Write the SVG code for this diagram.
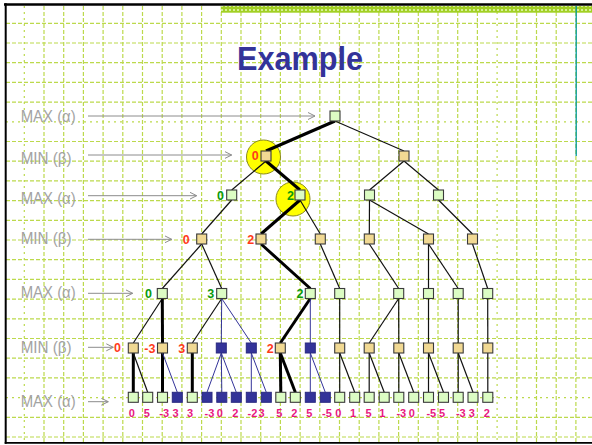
<svg xmlns="http://www.w3.org/2000/svg" width="592" height="445" viewBox="0 0 592 445">
<defs>
<pattern id="hatch" width="4" height="4" patternUnits="userSpaceOnUse"><rect width="4" height="4" fill="#a2d024"/><rect x="1" y="1" width="2" height="2" fill="#d6ee98"/></pattern>
<marker id="ah" markerWidth="9" markerHeight="9" refX="7" refY="4" orient="auto" markerUnits="userSpaceOnUse"><path d="M0,0.5 L7,4 L0,7.5" fill="none" stroke="#8c8c8c" stroke-width="1"/></marker>
</defs>
<style>
.g line{stroke:#bcd94c;stroke-width:1.2;stroke-dasharray:4 2}
.g line.s{stroke-dasharray:2 4}
.lbl{font-family:"Liberation Sans",Arial,sans-serif;font-size:16.5px;fill:#a3a3a3}
.ar{stroke:#8c8c8c;stroke-width:1;fill:none;marker-end:url(#ah)}
.t{stroke:#111;stroke-width:1.2;fill:none}
.k{stroke:#000;stroke-width:3;fill:none}
.b{stroke:#333399;stroke-width:1;fill:none}
.mx{fill:#dcfcc4;stroke:#3a3a3a;stroke-width:1.1}
.mn{fill:#f1d993;stroke:#3a3a3a;stroke-width:1.1}
.pb{fill:#333399;stroke:#2a2a80;stroke-width:1}
.v{font-family:"Liberation Sans",Arial,sans-serif;font-weight:bold;font-size:12.5px}
.vn{fill:#ff3b1a}
.vx{fill:#0a9a0a}
.lf{font-family:"Liberation Sans",Arial,sans-serif;font-weight:bold;font-size:11px;fill:#e8177f;text-anchor:middle}
.hl{fill:#ffff00;stroke:#8a8a20;stroke-width:1}
</style>
<rect width="592" height="445" fill="#fff"/>
<g class="g">
<line class="s" x1="24.3" y1="6" x2="24.3" y2="442"/><line x1="44" y1="6" x2="44" y2="442"/><line x1="63.7" y1="6" x2="63.7" y2="442"/><line x1="83.4" y1="6" x2="83.4" y2="442"/><line x1="103.1" y1="6" x2="103.1" y2="442"/><line x1="122.8" y1="6" x2="122.8" y2="442"/><line x1="142.5" y1="6" x2="142.5" y2="442"/><line x1="162.2" y1="6" x2="162.2" y2="442"/><line x1="181.9" y1="6" x2="181.9" y2="442"/><line x1="201.6" y1="6" x2="201.6" y2="442"/><line x1="221.3" y1="6" x2="221.3" y2="442"/><line x1="241" y1="6" x2="241" y2="442"/><line x1="260.7" y1="6" x2="260.7" y2="442"/><line x1="280.4" y1="6" x2="280.4" y2="442"/><line x1="300.1" y1="6" x2="300.1" y2="442"/><line x1="319.8" y1="6" x2="319.8" y2="442"/><line x1="339.5" y1="6" x2="339.5" y2="442"/><line x1="359.2" y1="6" x2="359.2" y2="442"/><line x1="378.9" y1="6" x2="378.9" y2="442"/><line x1="398.6" y1="6" x2="398.6" y2="442"/><line x1="418.3" y1="6" x2="418.3" y2="442"/><line x1="438" y1="6" x2="438" y2="442"/><line x1="457.7" y1="6" x2="457.7" y2="442"/><line x1="477.4" y1="6" x2="477.4" y2="442"/><line class="s" x1="497.1" y1="6" x2="497.1" y2="442"/><line x1="516.8" y1="6" x2="516.8" y2="442"/><line x1="536.5" y1="6" x2="536.5" y2="442"/><line x1="556.2" y1="6" x2="556.2" y2="442"/><line x1="575.9" y1="6" x2="575.9" y2="442"/>
<line x1="6" y1="23.3" x2="592" y2="23.3"/><line x1="6" y1="43" x2="592" y2="43"/><line x1="6" y1="62.7" x2="592" y2="62.7"/><line x1="6" y1="82.4" x2="592" y2="82.4"/><line x1="6" y1="102.1" x2="592" y2="102.1"/><line class="s" x1="6" y1="121.8" x2="592" y2="121.8"/><line x1="6" y1="141.5" x2="592" y2="141.5"/><line x1="6" y1="161.2" x2="592" y2="161.2"/><line x1="6" y1="180.9" x2="592" y2="180.9"/><line x1="6" y1="200.6" x2="592" y2="200.6"/><line x1="6" y1="220.3" x2="592" y2="220.3"/><line x1="6" y1="240" x2="592" y2="240"/><line x1="6" y1="259.7" x2="592" y2="259.7"/><line x1="6" y1="279.4" x2="592" y2="279.4"/><line x1="6" y1="299.1" x2="592" y2="299.1"/><line x1="6" y1="318.8" x2="592" y2="318.8"/><line x1="6" y1="338.5" x2="592" y2="338.5"/><line x1="6" y1="358.2" x2="592" y2="358.2"/><line x1="6" y1="377.9" x2="592" y2="377.9"/><line class="s" x1="6" y1="397.6" x2="592" y2="397.6"/><line x1="6" y1="417.3" x2="592" y2="417.3"/><line x1="6" y1="437" x2="592" y2="437"/>
</g>
<rect x="221" y="6" width="371" height="6.7" fill="url(#hatch)"/>
<line x1="576.2" y1="6" x2="576.2" y2="156" stroke="#00999a" stroke-width="1.3"/>
<line x1="4" y1="4.5" x2="592" y2="4.5" stroke="#000" stroke-width="2.4"/>
<line x1="5.7" y1="3.3" x2="5.7" y2="443.7" stroke="#000" stroke-width="2"/>
<line x1="4.7" y1="442.8" x2="592" y2="442.8" stroke="#000" stroke-width="1.8"/>
<text x="300" y="70" text-anchor="middle" font-family="'Comic Sans MS','Liberation Sans',Arial,sans-serif" font-weight="bold" font-size="34" fill="#333399" textLength="126" lengthAdjust="spacingAndGlyphs">Example</text>
<g id="levels">
<text class="lbl" x="20.7" y="122" textLength="55" lengthAdjust="spacingAndGlyphs">MAX (α)</text>
<text class="lbl" x="20.7" y="164" textLength="51" lengthAdjust="spacingAndGlyphs">MIN (β)</text>
<text class="lbl" x="20.7" y="204" textLength="55" lengthAdjust="spacingAndGlyphs">MAX (α)</text>
<text class="lbl" x="20.7" y="244" textLength="51" lengthAdjust="spacingAndGlyphs">MIN (β)</text>
<text class="lbl" x="20.7" y="298" textLength="55" lengthAdjust="spacingAndGlyphs">MAX (α)</text>
<text class="lbl" x="20.7" y="353" textLength="51" lengthAdjust="spacingAndGlyphs">MIN (β)</text>
<text class="lbl" x="20.7" y="407" textLength="55" lengthAdjust="spacingAndGlyphs">MAX (α)</text>
<line class="ar" x1="88" y1="116" x2="315" y2="116"/>
<line class="ar" x1="88" y1="155" x2="231.7" y2="155"/>
<line class="ar" x1="88" y1="195.7" x2="196.7" y2="195.7"/>
<line class="ar" x1="88" y1="239.3" x2="171.7" y2="239.3"/>
<line class="ar" x1="88" y1="293.3" x2="132.7" y2="293.3"/>
<line class="ar" x1="88" y1="347.3" x2="113.3" y2="347.3"/>
<line class="ar" x1="88" y1="401.7" x2="108.3" y2="401.7"/>
</g>
<g id="highlights">
<circle class="hl" cx="263.5" cy="157" r="17"/>
<circle class="hl" cx="293" cy="199" r="17"/>
</g>
<g id="connectors">
<path class="k" d="M335,121 L266,151"/><path class="t" d="M335,121 L404,151"/>
<path class="t" d="M266,161 L231.7,190"/><path class="k" d="M266,161 L300,190"/><path class="t" d="M404,161 L369.5,190"/><path class="t" d="M404,161 L438.5,190"/>
<path class="t" d="M231.7,200 L201.7,234"/><path class="k" d="M300,200 L261,234"/><path class="t" d="M300,200 L320.3,234"/><path class="t" d="M369.5,200 L369.3,234"/><path class="t" d="M369.5,200 L428.5,234"/><path class="t" d="M438.5,200 L472.5,234"/>
<path class="t" d="M201.7,244 L162.3,288.5"/><path class="t" d="M201.7,244 L221.7,288.5"/><path class="k" d="M261,244 L310.3,288.5"/><path class="t" d="M320.3,244 L339.7,288.5"/><path class="t" d="M369.3,244 L398.7,288.5"/><path class="t" d="M428.5,244 L428.5,288.5"/><path class="t" d="M428.5,244 L458.2,288.5"/><path class="t" d="M472.5,244 L487.7,288.5"/>
<path class="t" d="M162.3,298.5 L133.3,343"/><path class="k" d="M162.3,298.5 L162.5,343"/><path class="t" d="M221.7,298.5 L192.3,343"/><path class="b" d="M221.7,298.5 L221.3,343"/><path class="b" d="M221.7,298.5 L251.3,343"/><path class="k" d="M310.3,298.5 L280.3,343"/><path class="b" d="M310.3,298.5 L310.3,343"/><path class="t" d="M339.7,298.5 L339.7,343"/><path class="t" d="M398.7,298.5 L369.2,343"/><path class="t" d="M398.7,298.5 L398.8,343"/><path class="t" d="M428.5,298.5 L428.5,343"/><path class="t" d="M458.2,298.5 L458.2,343"/><path class="t" d="M487.7,298.5 L487.8,343"/>
<path class="k" d="M133.3,353 L133.3,392.3"/><path class="t" d="M133.3,353 L147.7,392.3"/><path class="k" d="M162.5,353 L162.5,392.3"/><path class="b" d="M162.5,353 L177.3,392.3"/><path class="k" d="M192.3,353 L192.3,392.3"/>
<path class="b" d="M221.3,353 L207,392.3"/><path class="b" d="M221.3,353 L221.8,392.3"/><path class="b" d="M221.3,353 L236.3,392.3"/><path class="b" d="M251.3,353 L251.3,392.3"/><path class="b" d="M251.3,353 L266.3,392.3"/>
<path class="k" d="M280.3,353 L280.8,392.3"/><path class="k" d="M280.3,353 L295.3,392.3"/><path class="b" d="M310.3,353 L310.3,392.3"/><path class="b" d="M310.3,353 L325.3,392.3"/>
<path class="t" d="M339.7,353 L339.7,392.3"/><path class="t" d="M339.7,353 L354.7,392.3"/><path class="t" d="M369.2,353 L369.2,392.3"/><path class="t" d="M369.2,353 L384.2,392.3"/><path class="t" d="M398.8,353 L398.8,392.3"/><path class="t" d="M398.8,353 L413.7,392.3"/><path class="t" d="M428.5,353 L428.5,392.3"/><path class="t" d="M428.5,353 L443.5,392.3"/><path class="t" d="M458.2,353 L458.2,392.3"/><path class="t" d="M458.2,353 L473,392.3"/><path class="t" d="M487.8,353 L487.8,392.3"/>
</g>
<g id="n0"><rect class="mx" x="330" y="111" width="10" height="10"/></g>
<g id="n1a"><rect class="mn" x="261" y="151" width="10" height="10"/><text class="v vn" x="251.7" y="160">0</text></g>
<g id="n1b"><rect class="mn" x="399" y="151" width="10" height="10"/></g>
<g id="n2a"><rect class="mx" x="226.7" y="190" width="10" height="10"/><text class="v vx" x="217" y="199.5">0</text></g>
<g id="n2b"><rect class="mx" x="295" y="190" width="10" height="10"/><text class="v vx" x="287" y="199.5">2</text></g>
<g id="n2c"><rect class="mx" x="364.5" y="190" width="10" height="10"/></g>
<g id="n2d"><rect class="mx" x="433.5" y="190" width="10" height="10"/></g>
<g id="n3a"><rect class="mn" x="196.7" y="234" width="10" height="10"/><text class="v vn" x="182.7" y="244">0</text></g>
<g id="n3b"><rect class="mn" x="256" y="234" width="10" height="10"/><text class="v vn" x="247.3" y="244">2</text></g>
<g id="n3c"><rect class="mn" x="315.3" y="234" width="10" height="10"/></g>
<g id="n3d"><rect class="mn" x="364.3" y="234" width="10" height="10"/></g>
<g id="n3e"><rect class="mn" x="423.5" y="234" width="10" height="10"/></g>
<g id="n3f"><rect class="mn" x="467.5" y="234" width="10" height="10"/></g>
<g id="n4a"><rect class="mx" x="157.3" y="288.5" width="10" height="10"/><text class="v vx" x="145" y="297.5">0</text></g>
<g id="n4b"><rect class="mx" x="216.7" y="288.5" width="10" height="10"/><text class="v vx" x="207.3" y="297.5">3</text></g>
<g id="n4c"><rect class="mx" x="305.3" y="288.5" width="10" height="10"/><text class="v vx" x="296.5" y="297.5">2</text></g>
<g id="n4d"><rect class="mx" x="334.7" y="288.5" width="10" height="10"/></g>
<g id="n4e"><rect class="mx" x="393.7" y="288.5" width="10" height="10"/></g>
<g id="n4f"><rect class="mx" x="423.5" y="288.5" width="10" height="10"/></g>
<g id="n4g"><rect class="mx" x="453.2" y="288.5" width="10" height="10"/></g>
<g id="n4h"><rect class="mx" x="482.7" y="288.5" width="10" height="10"/></g>
<g id="n5a"><rect class="mn" x="128.3" y="343" width="10" height="10"/><text class="v vn" x="114" y="351.5">0</text></g>
<g id="n5b"><rect class="mn" x="157.5" y="343" width="10" height="10"/><text class="v vn" x="144.3" y="353">-3</text></g>
<g id="n5c"><rect class="mn" x="187.3" y="343" width="10" height="10"/><text class="v vn" x="178.3" y="353">3</text></g>
<g id="n5d"><rect class="pb" x="216.3" y="343" width="10" height="10"/></g>
<g id="n5e"><rect class="pb" x="246.3" y="343" width="10" height="10"/></g>
<g id="n5f"><rect class="mn" x="275.3" y="343" width="10" height="10"/><text class="v vn" x="266.7" y="353">2</text></g>
<g id="n5g"><rect class="pb" x="305.3" y="343" width="10" height="10"/></g>
<g id="n5h"><rect class="mn" x="334.7" y="343" width="10" height="10"/></g>
<g id="n5i"><rect class="mn" x="364.2" y="343" width="10" height="10"/></g>
<g id="n5j"><rect class="mn" x="393.8" y="343" width="10" height="10"/></g>
<g id="n5k"><rect class="mn" x="423.5" y="343" width="10" height="10"/></g>
<g id="n5l"><rect class="mn" x="453.2" y="343" width="10" height="10"/></g>
<g id="n5m"><rect class="mn" x="482.8" y="343" width="10" height="10"/></g>
<g id="n6a"><rect class="mx" x="128.3" y="392.3" width="10" height="10"/><text class="lf" x="131.8" y="416.5">0</text></g>
<g id="n6b"><rect class="mx" x="142.7" y="392.3" width="10" height="10"/><text class="lf" x="146.8" y="416.5">5</text></g>
<g id="n6c"><rect class="mx" x="157.5" y="392.3" width="10" height="10"/><text class="lf" x="164.2" y="416.5">-3</text></g>
<g id="n6d"><rect class="pb" x="172.3" y="392.3" width="10" height="10"/><text class="lf" x="175.5" y="416.5">3</text></g>
<g id="n6e"><rect class="mx" x="187.3" y="392.3" width="10" height="10"/><text class="lf" x="190" y="416.5">3</text></g>
<g id="n6f"><rect class="pb" x="202" y="392.3" width="10" height="10"/><text class="lf" x="209.5" y="416.5">-3</text></g>
<g id="n6g"><rect class="pb" x="216.8" y="392.3" width="10" height="10"/><text class="lf" x="219.7" y="416.5">0</text></g>
<g id="n6h"><rect class="pb" x="231.3" y="392.3" width="10" height="10"/><text class="lf" x="235.2" y="416.5">2</text></g>
<g id="n6i"><rect class="pb" x="246.3" y="392.3" width="10" height="10"/><text class="lf" x="252.5" y="416.5">-2</text></g>
<g id="n6j"><rect class="pb" x="261.3" y="392.3" width="10" height="10"/><text class="lf" x="261.5" y="416.5">3</text></g>
<g id="n6k"><rect class="mx" x="275.8" y="392.3" width="10" height="10"/><text class="lf" x="279.2" y="416.5">5</text></g>
<g id="n6l"><rect class="mx" x="290.3" y="392.3" width="10" height="10"/><text class="lf" x="294.2" y="416.5">2</text></g>
<g id="n6m"><rect class="pb" x="305.3" y="392.3" width="10" height="10"/><text class="lf" x="309.2" y="416.5">5</text></g>
<g id="n6n"><rect class="pb" x="320.3" y="392.3" width="10" height="10"/><text class="lf" x="327" y="416.5">-5</text></g>
<g id="n6o"><rect class="mx" x="334.7" y="392.3" width="10" height="10"/><text class="lf" x="338.3" y="416.5">0</text></g>
<g id="n6p"><rect class="mx" x="349.7" y="392.3" width="10" height="10"/><text class="lf" x="353" y="416.5">1</text></g>
<g id="n6q"><rect class="mx" x="364.2" y="392.3" width="10" height="10"/><text class="lf" x="368.5" y="416.5">5</text></g>
<g id="n6r"><rect class="mx" x="379.2" y="392.3" width="10" height="10"/><text class="lf" x="382.2" y="416.5">1</text></g>
<g id="n6s"><rect class="mx" x="393.8" y="392.3" width="10" height="10"/><text class="lf" x="401.3" y="416.5">-3</text></g>
<g id="n6t"><rect class="mx" x="408.7" y="392.3" width="10" height="10"/><text class="lf" x="411.7" y="416.5">0</text></g>
<g id="n6u"><rect class="mx" x="423.5" y="392.3" width="10" height="10"/><text class="lf" x="431.3" y="416.5">-5</text></g>
<g id="n6v"><rect class="mx" x="438.5" y="392.3" width="10" height="10"/><text class="lf" x="442" y="416.5">5</text></g>
<g id="n6w"><rect class="mx" x="453.2" y="392.3" width="10" height="10"/><text class="lf" x="460.8" y="416.5">-3</text></g>
<g id="n6x"><rect class="mx" x="468" y="392.3" width="10" height="10"/><text class="lf" x="471.7" y="416.5">3</text></g>
<g id="n6y"><rect class="mx" x="482.8" y="392.3" width="10" height="10"/><text class="lf" x="486.8" y="416.5">2</text></g>
</svg>
